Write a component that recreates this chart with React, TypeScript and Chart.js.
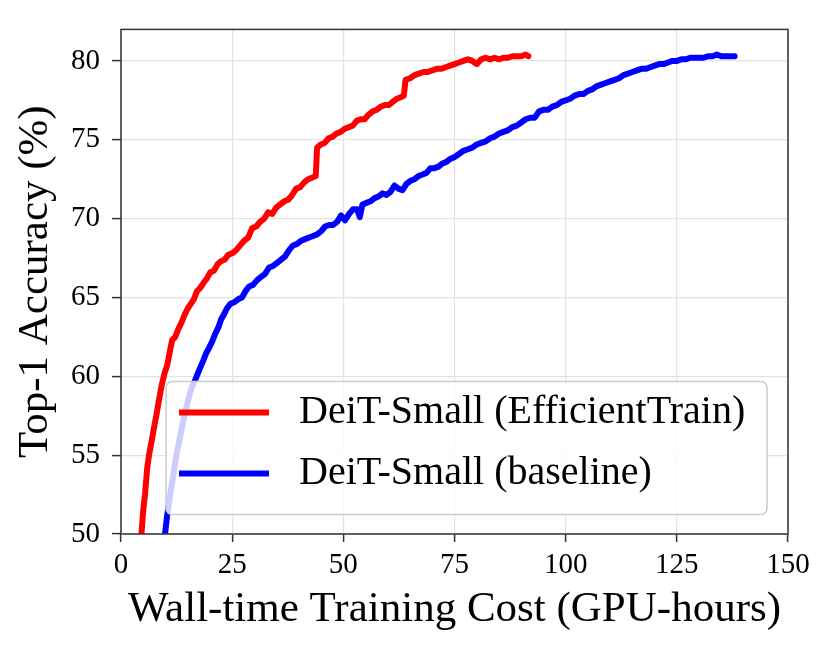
import { useEffect, useRef } from "react";
import { Chart, registerables } from "chart.js";

Chart.register(...registerables);

// wall-time (GPU-hours) and top-1 accuracy (%)
const effHours = [
  4.6, 5.0, 5.4, 5.9, 6.3, 6.9, 7.4, 8.0, 8.6, 9.2, 9.8, 10.4, 11.0, 11.5, 12.2,
  12.9, 13.6, 14.3, 15.0, 15.7, 16.4, 17.1, 17.8, 18.5, 19.3, 20.1, 20.9, 21.7,
  22.5, 23.3, 24.1, 25.0, 25.9, 26.8, 27.7, 28.6, 29.5, 30.4, 31.3, 32.2, 33.1,
  34.0, 34.9, 35.8, 36.7, 37.6, 38.5, 39.4, 40.3, 41.2, 42.1, 43.0, 43.8, 44.1,
  44.9, 45.8, 46.7, 47.6, 48.5, 49.4, 50.3, 51.2, 52.1, 53.0, 53.9, 54.8, 55.7,
  56.6, 57.5, 58.4, 59.3, 60.2, 61.1, 62.0, 62.9, 63.6, 64.0, 65.0, 66.0, 67.0,
  68.0, 69.0, 70.0, 71.0, 72.0, 73.0, 74.0, 75.0, 76.0, 77.0, 78.0, 79.0, 80.0,
  81.0, 82.0, 83.0, 84.0, 85.0, 86.0, 87.0, 88.0, 89.0, 90.0, 91.0, 91.6,
];
const effAcc = [
  50.0, 51.5, 52.5, 54.2, 55.0, 55.9, 56.7, 57.6, 58.6, 59.5, 60.2, 60.7, 61.6,
  62.3, 62.5, 63.0, 63.4, 63.9, 64.3, 64.6, 64.9, 65.4, 65.6, 65.9, 66.2, 66.6,
  66.7, 67.1, 67.3, 67.4, 67.7, 67.8, 68.0, 68.3, 68.6, 68.8, 69.4, 69.5, 69.8,
  70.0, 70.4, 70.3, 70.7, 70.9, 71.1, 71.2, 71.5, 71.9, 72.0, 72.3, 72.5, 72.6,
  72.7, 74.5, 74.7, 74.8, 75.1, 75.2, 75.4, 75.5, 75.7, 75.8, 75.9, 76.2, 76.3,
  76.3, 76.6, 76.8, 76.9, 77.1, 77.2, 77.2, 77.4, 77.6, 77.7, 77.8, 78.8, 78.9,
  79.1, 79.2, 79.3, 79.3, 79.4, 79.5, 79.5, 79.6, 79.7, 79.8, 79.9, 80.0, 80.1,
  80.0, 79.8, 80.1, 80.2, 80.1, 80.2, 80.1, 80.2, 80.2, 80.3, 80.3, 80.3, 80.4,
  80.3,
];

const baseHours = [
  9.9, 10.3, 10.7, 11.2, 11.7, 12.2, 12.8, 13.4, 14.0, 14.6, 15.2, 15.9, 16.6,
  17.3, 17.9, 18.5, 19.2, 19.8, 20.5, 21.2, 21.9, 22.5, 23.1, 23.8, 24.6, 25.5,
  26.4, 27.2, 28.0, 28.8, 29.7, 30.6, 31.5, 32.4, 33.3, 34.2, 35.1, 36.0, 36.9,
  37.8, 38.7, 39.6, 40.5, 41.4, 42.3, 43.2, 44.1, 45.0, 45.9, 46.8, 47.7, 48.6,
  49.5, 50.4, 51.3, 52.2, 53.1, 53.7, 54.3, 55.2, 56.1, 57.0, 57.9, 58.8, 59.7,
  60.6, 61.5, 62.4, 63.3, 64.2, 65.1, 66.0, 66.9, 67.8, 68.7, 69.6, 70.5, 71.4,
  72.3, 73.2, 74.1, 75.0, 76.0, 77.0, 78.0, 79.0, 80.0, 81.0, 82.0, 83.0, 84.0,
  85.0, 86.0, 87.0, 88.0, 89.0, 90.0, 91.0, 92.0, 93.0, 94.0, 95.0, 96.0, 97.0,
  98.0, 99.0, 100.0, 101.0, 102.0, 103.0, 104.0, 105.0, 106.0, 107.0, 108.0,
  109.0, 110.0, 111.0, 112.0, 113.0, 114.0, 115.0, 116.0, 117.0, 118.0, 119.0,
  120.0, 121.0, 122.0, 123.0, 124.0, 125.0, 126.0, 127.0, 128.0, 129.0, 130.0,
  131.0, 132.0, 133.0, 134.0, 135.0, 136.0, 137.0, 138.0,
];
const baseAcc = [
  50.0, 51.0, 51.8, 52.8, 53.6, 54.6, 55.5, 56.3, 57.2, 57.9, 58.6, 59.3, 59.7,
  60.2, 60.6, 61.0, 61.5, 61.8, 62.2, 62.7, 63.1, 63.6, 63.9, 64.3, 64.6, 64.7,
  64.9, 65.0, 65.4, 65.7, 65.8, 66.1, 66.3, 66.5, 66.9, 67.0, 67.2, 67.4, 67.6,
  68.0, 68.3, 68.4, 68.6, 68.7, 68.8, 68.9, 69.0, 69.2, 69.5, 69.6, 69.6, 69.8,
  70.2, 69.9, 70.3, 70.6, 70.6, 70.1, 70.9, 71.0, 71.1, 71.3, 71.4, 71.6, 71.5,
  71.7, 72.1, 71.9, 71.8, 72.2, 72.4, 72.5, 72.7, 72.8, 72.9, 73.2, 73.2, 73.3,
  73.5, 73.6, 73.8, 73.9, 74.1, 74.3, 74.4, 74.5, 74.7, 74.8, 74.9, 75.1, 75.2,
  75.4, 75.5, 75.6, 75.8, 75.9, 76.1, 76.3, 76.4, 76.4, 76.8, 76.9, 76.9, 77.1,
  77.2, 77.4, 77.5, 77.6, 77.8, 77.9, 77.9, 78.1, 78.2, 78.4, 78.5, 78.6, 78.7,
  78.8, 78.9, 79.1, 79.2, 79.3, 79.4, 79.5, 79.5, 79.6, 79.7, 79.8, 79.8, 79.9,
  80.0, 80.0, 80.1, 80.1, 80.2, 80.2, 80.2, 80.2, 80.3, 80.3, 80.4, 80.3, 80.3,
  80.3, 80.3,
];

const seriesNames = ["DeiT-Small (EfficientTrain)", "DeiT-Small (baseline)"];
const seriesColors = ["#ff0000", "#0000ff"];

const xTicks = [0, 25, 50, 75, 100, 125, 150];
const yTicks = [50, 55, 60, 65, 70, 75, 80];

const FONT = "'Liberation Serif', 'DejaVu Serif', serif";

// matplotlib-style full box around the plot area
const framePlugin = {
  id: "frame",
  afterDatasetsDraw(chart: Chart) {
    const { ctx, chartArea: a } = chart;
    ctx.save();
    ctx.strokeStyle = "#333333";
    ctx.lineWidth = 1.5;
    ctx.strokeRect(a.left, a.top, a.right - a.left, a.bottom - a.top);
    ctx.restore();
  },
};

// legend box sitting inside the axes, lower right
const legendPlugin = {
  id: "boxLegend",
  afterDraw(chart: Chart) {
    const { ctx, chartArea: a } = chart;
    const x = a.left + 45;
    const y = a.top + 352;
    const w = 601;
    const h = 133;
    ctx.save();
    ctx.beginPath();
    ctx.roundRect(x, y, w, h, 6);
    ctx.fillStyle = "rgba(255,255,255,0.8)";
    ctx.fill();
    ctx.strokeStyle = "#cccccc";
    ctx.lineWidth = 1.5;
    ctx.stroke();
    ctx.font = `40px ${FONT}`;
    ctx.textBaseline = "middle";
    chart.data.datasets.forEach((ds, i) => {
      const ly = y + 31 + i * 61;
      ctx.beginPath();
      ctx.moveTo(x + 13, ly);
      ctx.lineTo(x + 103, ly);
      ctx.strokeStyle = ds.borderColor as string;
      ctx.lineWidth = 6;
      ctx.stroke();
      ctx.fillStyle = "#000";
      ctx.fillText(ds.label as string, x + 133, ly);
    });
    ctx.restore();
  },
};

const AccuracyChart = () => {
  const canvasRef = useRef<HTMLCanvasElement>(null);
  const chartRef = useRef<Chart | null>(null);

  useEffect(() => {
    if (!canvasRef.current) return;
    if (chartRef.current) chartRef.current.destroy();

    const toPoints = (xs: number[], ys: number[]) =>
      xs.map((x, i) => ({ x, y: ys[i] }));

    chartRef.current = new Chart(canvasRef.current, {
      type: "line",
      data: {
        datasets: [
          {
            label: seriesNames[0],
            data: toPoints(effHours, effAcc),
            borderColor: seriesColors[0],
            borderWidth: 6,
            pointRadius: 0,
            tension: 0,
            borderJoinStyle: "round",
            borderCapStyle: "round",
          },
          {
            label: seriesNames[1],
            data: toPoints(baseHours, baseAcc),
            borderColor: seriesColors[1],
            borderWidth: 6,
            pointRadius: 0,
            tension: 0,
            borderJoinStyle: "round",
            borderCapStyle: "round",
          },
        ],
      },
      options: {
        animation: false,
        responsive: false,
        devicePixelRatio: 1,
        layout: { padding: { left: 0, top: 27, right: 43, bottom: 0 } },
        plugins: {
          legend: { display: false },
          tooltip: { enabled: false },
        },
        scales: {
          x: {
            type: "linear",
            min: 0,
            max: 150,
            afterBuildTicks: (s) => {
              s.ticks = xTicks.map((v) => ({ value: v }));
            },
            afterFit: (s) => {
              s.height = 119;
            },
            border: { display: false },
            grid: {
              color: "#e3e3e3",
              lineWidth: 1.2,
              tickColor: "#333333",
              tickLength: 8,
              tickWidth: 1.5,
            },
            ticks: {
              color: "#000",
              padding: 6,
              maxRotation: 0,
              font: { family: FONT, size: 29 },
            },
            title: {
              display: true,
              text: "Wall-time Training Cost (GPU-hours)",
              color: "#000",
              font: { family: FONT, size: 43 },
              padding: { top: 0, bottom: 17 },
            },
          },
          y: {
            type: "linear",
            min: 50,
            max: 82,
            afterBuildTicks: (s) => {
              s.ticks = yTicks.map((v) => ({ value: v }));
            },
            afterFit: (s) => {
              s.width = 121;
            },
            border: { display: false },
            grid: {
              color: "#e3e3e3",
              lineWidth: 1.2,
              tickColor: "#333333",
              tickLength: 9,
              tickWidth: 1.5,
            },
            ticks: {
              color: "#000",
              padding: 12,
              font: { family: FONT, size: 29 },
            },
            title: {
              display: true,
              text: "Top-1 Accuracy (%)",
              color: "#000",
              font: { family: FONT, size: 43 },
              padding: { top: 10, bottom: 0 },
            },
          },
        },
      },
      plugins: [framePlugin, legendPlugin],
    });

    return () => {
      if (chartRef.current) {
        chartRef.current.destroy();
        chartRef.current = null;
      }
    };
  }, []);

  return (
    <div
      style={{
        position: "absolute",
        left: 0,
        top: 0,
        width: 831,
        height: 653,
        background: "#fff",
      }}
    >
      <canvas ref={canvasRef} width={831} height={653} />
    </div>
  );
};

export default function App() {
  return <AccuracyChart />;
}
